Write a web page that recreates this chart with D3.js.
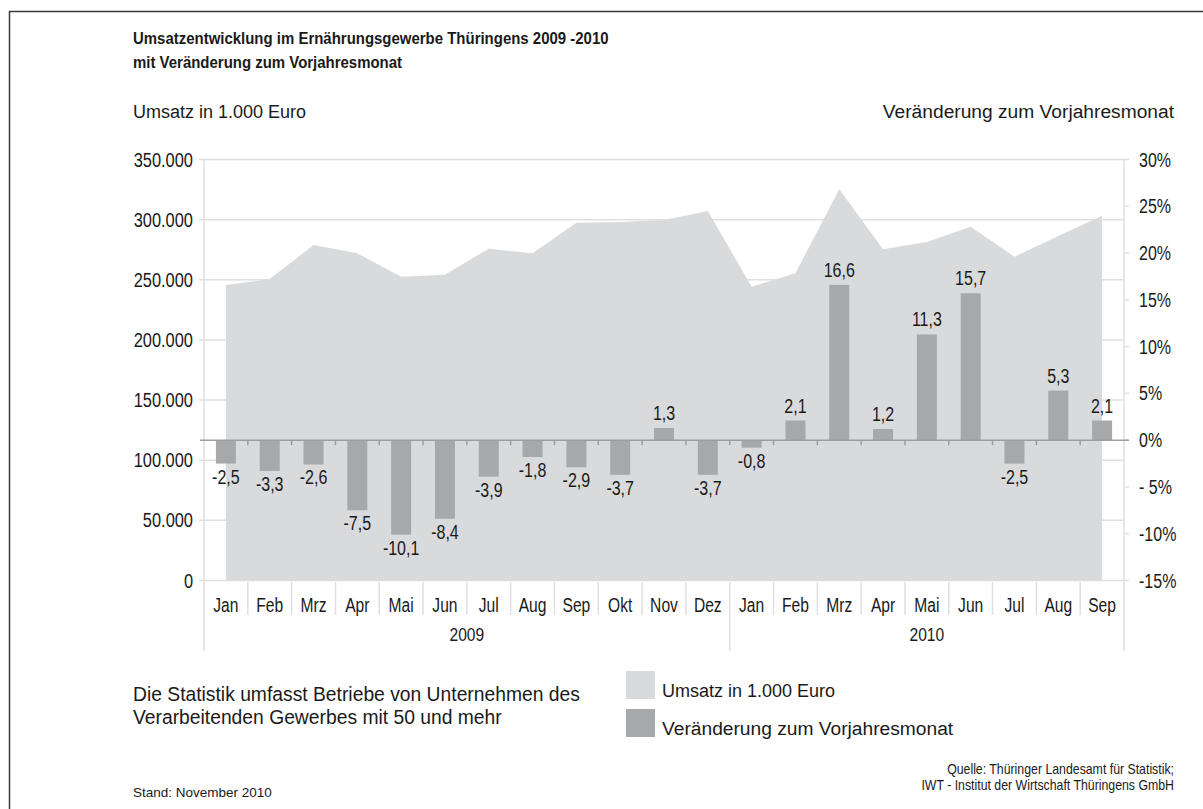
<!DOCTYPE html>
<html>
<head>
<meta charset="utf-8">
<script src="https://cdn.jsdelivr.net/npm/d3@7"></script>
<style>
  body { margin: 0; background: #fff; }
  svg text { font-family: "Liberation Sans", Arial, sans-serif; fill: #1a1a1a; }
</style>
</head>
<body>
<div id="chart"></div>
<script>
// months on the category axis, with the year they belong to
const months = ["Jan","Feb","Mrz","Apr","Mai","Jun","Jul","Aug","Sep","Okt","Nov","Dez",
                "Jan","Feb","Mrz","Apr","Mai","Jun","Jul","Aug","Sep"]
const years = [{name: "2009", from: 0, to: 12}, {name: "2010", from: 12, to: 21}]

// Umsatz in 1.000 Euro
const umsatz = [245600, 250600, 278900, 272000, 252600, 254200, 275900, 272000, 297500, 298000, 299700, 307200,
                244300, 255400, 325200, 275300, 281400, 294100, 269200, 286400, 303300]

// Veraenderung zum Vorjahresmonat in %
const change = [-2.5, -3.3, -2.6, -7.5, -10.1, -8.4, -3.9, -1.8, -2.9, -3.7, 1.3, -3.7,
                -0.8, 2.1, 16.6, 1.2, 11.3, 15.7, -2.5, 5.3, 2.1]

const leftTicks = [0, 50000, 100000, 150000, 200000, 250000, 300000, 350000]
const rightTicks = [-15, -10, -5, 0, 5, 10, 15, 20, 25, 30]

const width = 1203
const height = 809

const areaColor = "#d9dadc"
const barColor = "#a7a8aa"
const gridColor = "#dfdfdf"

const svg = d3.select("#chart").append("svg")
  .attr("width", width)
  .attr("height", height)

// squeeze text horizontally, the original uses a condensed face
function narrow(sel, k) {
  sel.each(function() {
    const w = this.getComputedTextLength()
    d3.select(this).attr("textLength", w * k).attr("lengthAdjust", "spacingAndGlyphs")
  })
}

// frame (only left and top edges are inside the picture)
svg.append("path")
  .attr("d", "M9.5,809V11.5H1203")
  .attr("fill", "none").attr("stroke", "#3a3a3a").attr("stroke-width", 1.5)

// scales
const x = d3.scaleBand().domain(d3.range(months.length)).range([204, 1124])
const yL = d3.scaleLinear().domain([0, 350000]).range([580.5, 159.5])
const yR = d3.scaleLinear().domain([-15, 30]).range([580.5, 159.5])
const cx = i => x(i) + x.bandwidth() / 2
const de = d3.formatLocale({decimal: ",", thousands: ".", grouping: [3], currency: ["", "€"], minus: "-"})
const fmtL = de.format(",")
const fmtBar = de.format(".1f")

// titles
svg.append("text").attr("x", 133).attr("y", 43.5).attr("font-weight", "bold").attr("font-size", 17)
  .text("Umsatzentwicklung im Ernährungsgewerbe Thüringens 2009 -2010")
  .call(narrow, 0.88)
svg.append("text").attr("x", 133).attr("y", 68).attr("font-weight", "bold").attr("font-size", 17)
  .text("mit Veränderung zum Vorjahresmonat")
  .call(narrow, 0.88)
svg.append("text").attr("x", 133).attr("y", 118).attr("font-size", 18)
  .text("Umsatz in 1.000 Euro")
svg.append("text").attr("x", 1174).attr("y", 118).attr("font-size", 19.2).attr("text-anchor", "end")
  .text("Veränderung zum Vorjahresmonat")

// grid lines (left axis)
svg.append("g").selectAll("line").data(leftTicks).join("line")
  .attr("x1", 199).attr("x2", 1124)
  .attr("y1", d => yL(d)).attr("y2", d => yL(d))
  .attr("stroke", gridColor).attr("stroke-width", 1.5)

// right tick marks
svg.append("g").selectAll("line").data(rightTicks).join("line")
  .attr("x1", 1124).attr("x2", 1129)
  .attr("y1", d => yR(d)).attr("y2", d => yR(d))
  .attr("stroke", gridColor).attr("stroke-width", 1.5)

// area for Umsatz
const area = d3.area()
  .x((d, i) => cx(i))
  .y0(yL(0))
  .y1(d => yL(d))
svg.append("path").datum(umsatz).attr("d", area).attr("fill", areaColor)

// vertical axis lines
svg.append("line").attr("x1", 204).attr("x2", 204).attr("y1", 159.5).attr("y2", 651)
  .attr("stroke", gridColor).attr("stroke-width", 1.5)
svg.append("line").attr("x1", 1124).attr("x2", 1124).attr("y1", 159.5).attr("y2", 651)
  .attr("stroke", gridColor).attr("stroke-width", 1.5)

// bars
svg.append("g").selectAll("rect").data(change).join("rect")
  .attr("x", (d, i) => cx(i) - 10)
  .attr("width", 20)
  .attr("y", d => yR(Math.max(0, d)))
  .attr("height", d => Math.abs(yR(d) - yR(0)))
  .attr("fill", barColor)

// zero line with small ticks between months
svg.append("line").attr("x1", 200).attr("x2", 1129).attr("y1", yR(0)).attr("y2", yR(0))
  .attr("stroke", "#9d9d9d").attr("stroke-width", 1.5)
svg.append("g").selectAll("line").data(d3.range(1, months.length)).join("line")
  .attr("x1", d => x(d)).attr("x2", d => x(d))
  .attr("y1", yR(0)).attr("y2", yR(0) + 5)
  .attr("stroke", "#9d9d9d").attr("stroke-width", 1.5)

// bar labels
svg.append("g").selectAll("text").data(change).join("text")
  .attr("x", (d, i) => cx(i))
  .attr("y", d => d >= 0 ? yR(d) - 8 : yR(d) + 20)
  .attr("text-anchor", "middle")
  .attr("font-size", 20)
  .text(d => fmtBar(d))
  .call(narrow, 0.8)

// left axis labels
svg.append("g").selectAll("text").data(leftTicks).join("text")
  .attr("x", 193).attr("y", d => yL(d) + 7)
  .attr("text-anchor", "end").attr("font-size", 20)
  .text(d => fmtL(d))
  .call(narrow, 0.82)

// right axis labels
svg.append("g").selectAll("text").data(rightTicks).join("text")
  .attr("x", 1139).attr("y", d => yR(d) + 7)
  .attr("font-size", 20)
  .text(d => d < 0 && d > -10 ? "- " + Math.abs(d) + "%" : d + "%")
  .call(narrow, 0.8)

// category table: month separators
svg.append("g").selectAll("line").data(d3.range(1, months.length).filter(d => d !== 12)).join("line")
  .attr("x1", d => x(d)).attr("x2", d => x(d))
  .attr("y1", 582).attr("y2", 615)
  .attr("stroke", gridColor).attr("stroke-width", 1.5)
svg.append("line").attr("x1", x(12)).attr("x2", x(12)).attr("y1", 582).attr("y2", 651)
  .attr("stroke", gridColor).attr("stroke-width", 1.5)

svg.append("g").selectAll("text").data(months).join("text")
  .attr("x", (d, i) => cx(i)).attr("y", 612)
  .attr("text-anchor", "middle").attr("font-size", 20)
  .text(d => d)
  .call(narrow, 0.78)

svg.append("g").selectAll("text").data(years).join("text")
  .attr("x", d => (x(d.from) + (d.to < months.length ? x(d.to) : 1124)) / 2)
  .attr("y", 641)
  .attr("text-anchor", "middle").attr("font-size", 19)
  .text(d => d.name)
  .call(narrow, 0.82)

// note text
svg.append("text").attr("x", 133).attr("y", 701).attr("font-size", 19.3)
  .text("Die Statistik umfasst Betriebe von Unternehmen des")
svg.append("text").attr("x", 133).attr("y", 724).attr("font-size", 19.3)
  .text("Verarbeitenden Gewerbes mit 50 und mehr")

// legend
const legend = [{label: "Umsatz in 1.000 Euro", size: 18, color: areaColor},
                {label: "Veränderung zum Vorjahresmonat", size: 19.2, color: barColor}]
const lg = svg.append("g").selectAll("g").data(legend).join("g")
  .attr("transform", (d, i) => "translate(626," + (671 + i * 38) + ")")
lg.append("rect").attr("width", 29).attr("height", 28).attr("fill", d => d.color)
lg.append("text").attr("x", 36).attr("y", 26).attr("font-size", d => d.size).text(d => d.label)

// footer
svg.append("text").attr("x", 133).attr("y", 797).attr("font-size", 13.5)
  .text("Stand: November 2010")
const src = svg.append("g").attr("transform", "translate(1174,0) scale(0.88,1)")
src.append("text").attr("x", 0).attr("y", 774).attr("font-size", 14).attr("text-anchor", "end")
  .text("Quelle: Thüringer Landesamt für Statistik;")
src.append("text").attr("x", 0).attr("y", 790).attr("font-size", 14).attr("text-anchor", "end")
  .text("IWT - Institut der Wirtschaft Thüringens GmbH")
</script>
</body>
</html>
